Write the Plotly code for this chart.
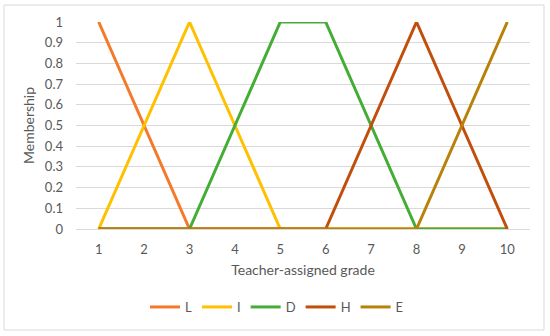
import plotly.graph_objects as go

grades = ["1", "2", "3", "4", "5", "6", "7", "8", "9", "10"]
series_names = ["L", "I", "D", "H", "E"]
L = [1, 0.5, 0, 0, 0, 0, 0, 0, 0, 0]
I = [0, 0.5, 1, 0.5, 0, 0, 0, 0, 0, 0]
D = [0, 0, 0, 0.5, 1, 1, 0.5, 0, 0, 0]
H = [0, 0, 0, 0, 0, 0, 0.5, 1, 0.5, 0]
E = [0, 0, 0, 0, 0, 0, 0, 0, 0.5, 1]
colors = ["#F47A2A", "#FFC000", "#44AD35", "#C24E0C", "#B8820A"]
y_ticks = [0, 0.1, 0.2, 0.3, 0.4, 0.5, 0.6, 0.7, 0.8, 0.9, 1]
y_tick_labels = ["0", "0.1", "0.2", "0.3", "0.4", "0.5", "0.6", "0.7", "0.8", "0.9", "1"]

font_family = "Lato, 'Open Sans', sans-serif"
text_color = "#595959"

fig = go.Figure()
for name, vals, col in zip(series_names, [L, I, D, H, E], colors):
    fig.add_trace(go.Scatter(x=grades, y=vals, mode="lines", name=name,
                             line=dict(color=col, width=3)))

W, H_ = 550, 336
ml, mr, mt, mb = 76, 20, 22, 107
pw = W - ml - mr
ph = H_ - mt - mb

def px_x(x):
    return (x - ml) / pw

def px_y(y):
    return (H_ - mb - y) / ph

fig.update_layout(
    width=W, height=H_,
    margin=dict(l=ml, r=mr, t=mt, b=mb),
    paper_bgcolor="white", plot_bgcolor="white",
    font=dict(family=font_family, color=text_color, size=13),
    showlegend=True,
    legend=dict(orientation="h", x=px_x(277), xanchor="center",
                y=px_y(307), yanchor="middle",
                font=dict(size=13, color=text_color),
                itemwidth=30, tracegroupgap=0),
    xaxis=dict(type="category", range=[-0.5, 9.5], showgrid=False,
               showline=True, linecolor="#D9D9D9", linewidth=1,
               ticks="", ticklabelstandoff=8,
               tickfont=dict(size=13, color=text_color),
               title=dict(text="Teacher-assigned grade", standoff=9,
                          font=dict(size=14, color=text_color))),
    yaxis=dict(range=[0, 1], tickvals=y_ticks, ticktext=y_tick_labels,
               showgrid=True, gridcolor="#D9D9D9", gridwidth=1,
               zeroline=False, showline=False, ticks="",
               ticklabelstandoff=12,
               tickfont=dict(size=13, color=text_color),
               title=dict(text="Membership", standoff=6,
                          font=dict(size=14, color=text_color))),
    shapes=[dict(type="rect", xref="paper", yref="paper",
                 x0=px_x(4), x1=px_x(544), y0=px_y(330), y1=px_y(5),
                 line=dict(color="#D9D9D9", width=1), layer="below")],
)

fig.write_html("out.html", config={"displayModeBar": False},
               post_script="document.body.style.margin='0';document.body.style.overflow='hidden';")
